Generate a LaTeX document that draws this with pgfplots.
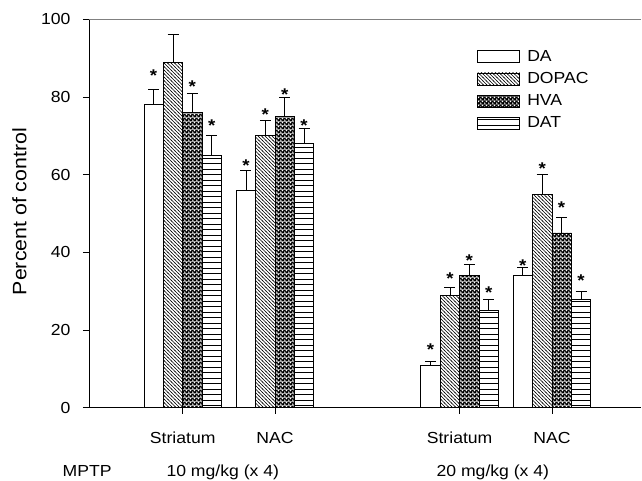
\documentclass[border=0pt]{standalone}
\usepackage{fontspec}
\setmainfont{Liberation Sans}[FakeStretch=1.1]
\usepackage{pgfplots}
\usepackage{pgfplotstable}
\pgfplotsset{compat=1.18}
\usetikzlibrary{patterns.meta}

% fill patterns of the four series
\pgfdeclarepattern{
  name=dopac, type=uncolored,
  bottom left={\pgfpoint{-1pt}{-1pt}}, top right={\pgfpoint{4.5pt}{4.5pt}},
  tile size={\pgfpoint{3.5pt}{3.5pt}},
  code={
    \pgfsetlinewidth{0.65pt}
    \pgfpathmoveto{\pgfpoint{-0.5pt}{4pt}}
    \pgfpathlineto{\pgfpoint{4pt}{-0.5pt}}
    \pgfusepath{stroke}
  }
}
\pgfdeclarepattern{
  name=hva, type=colored,
  bottom left={\pgfpointorigin}, top right={\pgfpoint{4pt}{4pt}},
  tile size={\pgfpoint{4pt}{4pt}},
  code={
    \pgfsetfillcolor{black}
    \pgfpathrectangle{\pgfpoint{-0.2pt}{-0.2pt}}{\pgfpoint{4.4pt}{4.4pt}}
    \pgfusepath{fill}
    \pgfsetfillcolor{white}
    \pgfpathcircle{\pgfpoint{1pt}{1pt}}{0.95pt}
    \pgfpathcircle{\pgfpoint{3pt}{3pt}}{0.95pt}
    \pgfusepath{fill}
  }
}
\pgfdeclarepattern{
  name=dat, type=uncolored,
  bottom left={\pgfpoint{-0.5pt}{0pt}}, top right={\pgfpoint{6pt}{5.5pt}},
  tile size={\pgfpoint{5.5pt}{5.5pt}},
  code={
    \pgfsetlinewidth{0.8pt}
    \pgfpathmoveto{\pgfpoint{-0.5pt}{2.75pt}}
    \pgfpathlineto{\pgfpoint{6pt}{2.75pt}}
    \pgfusepath{stroke}
  }
}

% x: 0 = Striatum, 1 = NAC (10 mg/kg); 3 = Striatum, 4 = NAC (20 mg/kg)
% y = percent of control, e = SEM, s = height of the asterisk
\pgfplotstableread{
x y e s
0 78 4 86.5
1 56 5 63.3
3 11 1 15.8
4 34 2 37.6
}\da
\pgfplotstableread{
x y e s
0 89 7 nan
1 70 4 76.4
3 29 2 34.0
4 55 5 62.5
}\dopac
\pgfplotstableread{
x y e s
0 76 5 83.6
1 75 5 81.6
3 34 3 38.7
4 45 4 52.4
}\hva
\pgfplotstableread{
x y e s
0 65 5 73.5
1 68 4 73.4
3 25 3 30.5
4 28 2 33.5
}\dat

\pgfplotsset{
  mybar/.style={
    ybar, bar width=0.21, bar shift=#1,
    draw=black, line width=0.8pt,
    legend image code/.code={\draw[##1, line width=0.8pt] (0pt,-6pt) rectangle (42pt,6pt);},
  },
  myerr/.style={
    forget plot, draw=none, mark=none,
    error bars/.cd, y dir=plus, y explicit,
    error bar style={black, line width=0.8pt},
    error mark=-,
    error mark options={rotate=90, black, mark size=5.5pt, line width=0.8pt},
  },
  mystar/.style={
    forget plot, draw=none, mark=none,
    nodes near coords={*},
    nodes near coords style={anchor=center, yshift=-3.5pt, font=\fontsize{17}{19}\selectfont\bfseries},
  },
}

\begin{document}
\begin{tikzpicture}[font=\fontsize{16}{19}\selectfont]
\begin{axis}[
  scale only axis,
  width=552pt, height=388.4pt,
  xmin=-1.015, xmax=4.965,
  ymin=0, ymax=100,
  axis x line=bottom, axis y line=left,
  axis line style={-, line width=0.8pt},
  xtick={0,1,3,4},
  xticklabels={Striatum,NAC,Striatum,NAC},
  ytick={0,20,...,100},
  tick align=outside,
  major tick length=6pt,
  tick style={black, line width=0.8pt},
  /pgf/number format/assume math mode=true,
  ticklabel style={font=\fontsize{16}{19}\selectfont},
  xticklabel style={anchor=base, yshift=-30pt},
  yticklabel style={xshift=-9pt},
  ylabel={Percent of control},
  ylabel style={at={(rel axis cs:0,0.505)}, anchor=center,
    yshift=69.5pt, inner sep=0pt, font=\fontsize{19.4}{23}\selectfont},
  legend style={draw=none, fill=none, inner sep=0pt,
    at={(rel axis cs:0.7034,0.925)}, anchor=north west,
    column sep=5pt, row sep=5.5pt,
    font=\fontsize{16}{19}\selectfont},
  legend cell align=left,
  clip=false,
]

\addplot[mybar=-0.315, fill=white] table[x=x, y=y] {\da};
\addplot[mybar=-0.105, pattern=dopac, pattern color=black] table[x=x, y=y] {\dopac};
\addplot[mybar=0.105, pattern=hva] table[x=x, y=y] {\hva};
\addplot[mybar=0.315, pattern=dat, pattern color=black] table[x=x, y=y] {\dat};
\legend{DA, DOPAC, HVA, DAT}

% error bars (upper side only), at the centre of each bar
\addplot[myerr] table[x expr=\thisrow{x}-0.315, y=y, y error=e] {\da};
\addplot[myerr] table[x expr=\thisrow{x}-0.105, y=y, y error=e] {\dopac};
\addplot[myerr] table[x expr=\thisrow{x}+0.105, y=y, y error=e] {\hva};
\addplot[myerr] table[x expr=\thisrow{x}+0.315, y=y, y error=e] {\dat};

% significance asterisks
\addplot[mystar] table[x expr=\thisrow{x}-0.315, y=s] {\da};
\addplot[mystar] table[x expr=\thisrow{x}-0.105, y=s] {\dopac};
\addplot[mystar] table[x expr=\thisrow{x}+0.105, y=s] {\hva};
\addplot[mystar] table[x expr=\thisrow{x}+0.315, y=s] {\dat};

% top frame line of the original figure
\draw[gray, line width=0.8pt] (rel axis cs:0,1) -- (rel axis cs:1,1);

\node[anchor=base, yshift=-69pt] at (axis cs:-1.036,0) {MPTP};
\node[anchor=base, yshift=-69pt] at (axis cs:0.434,0) {10 mg/kg (x 4)};
\node[anchor=base, yshift=-69pt] at (axis cs:3.36,0) {20 mg/kg (x 4)};

\coordinate (O) at (rel axis cs:0,0);
\end{axis}
\pgfresetboundingbox
\path (O) ++(-89pt,-72.3pt) rectangle ++(642pt,480pt);
\end{tikzpicture}
\end{document}
